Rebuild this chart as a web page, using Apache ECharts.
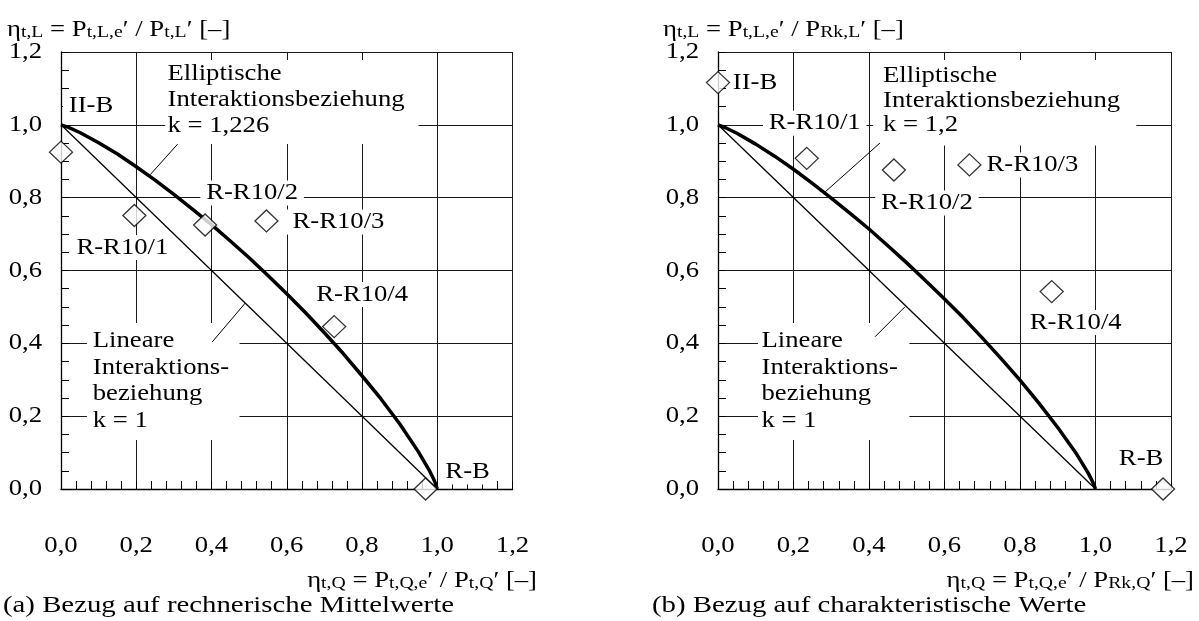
<!DOCTYPE html>
<html>
<head>
<meta charset="utf-8">
<script src="https://cdn.jsdelivr.net/npm/echarts@6/dist/echarts.min.js"></script>
<style>
html,body{margin:0;padding:0;background:#fff;}
#c{width:1199px;height:621px;}
</style>
</head>
<body>
<div id="c"></div>
<script>
// ---- data ----
const specimenNames = ['II-B', 'R-R10/1', 'R-R10/2', 'R-R10/3', 'R-R10/4', 'R-B'];
// (a) mean values
const meanEtaQ = [0.000, 0.195, 0.383, 0.546, 0.726, 0.969];
const meanEtaL = [0.925, 0.751, 0.725, 0.736, 0.446, 0.000];
// (b) characteristic values
const charEtaQ = [0.000, 0.235, 0.466, 0.666, 0.884, 1.179];
const charEtaL = [1.116, 0.908, 0.876, 0.890, 0.542, 0.000];
// interaction curves
const curveEtaQ    = [0, 0.02, 0.05, 0.1, 0.15, 0.2, 0.25, 0.3, 0.35, 0.4, 0.45, 0.5, 0.55, 0.6, 0.65, 0.7, 0.75, 0.8, 0.85, 0.9, 0.95, 0.98, 0.99, 0.995, 1.0];
const ellipseMeanL = [1.0, 0.993, 0.979, 0.951, 0.920, 0.885, 0.848, 0.809, 0.768, 0.726, 0.681, 0.635, 0.586, 0.536, 0.484, 0.429, 0.372, 0.311, 0.248, 0.179, 0.102, 0.049, 0.028, 0.016, 0];
const ellipseCharL = [1.0, 0.992, 0.977, 0.947, 0.914, 0.878, 0.839, 0.799, 0.757, 0.714, 0.668, 0.621, 0.572, 0.522, 0.470, 0.415, 0.358, 0.299, 0.236, 0.169, 0.096, 0.045, 0.025, 0.014, 0];
const linearEtaQ = [0, 1];
const linearEtaL = [1, 0];
const tickValues = [0, 0.2, 0.4, 0.6, 0.8, 1.0, 1.2];
const tickLabels = ['0,0', '0,2', '0,4', '0,6', '0,8', '1,0', '1,2'];

// ---- styling / layout ----
const FONT = "'Liberation Serif', 'Times New Roman', serif";
const FS = 23;                 // font size
const SX = 1.16;               // the reference type is set slightly widened
const pairs = (xs, ys) => xs.map((x, i) => [x, ys[i]]);

function axisCommon(gi, minorSplit) {
  return {
    type: 'value', gridIndex: gi, min: tickValues[0], max: tickValues[tickValues.length - 1],
    interval: tickValues[1] - tickValues[0],
    axisLine: { show: true, lineStyle: { color: '#000', width: 1.3 } },
    axisTick: { show: true, inside: true, length: 8, lineStyle: { color: '#000', width: 1 } },
    minorTick: { show: true, splitNumber: minorSplit, length: 8, lineStyle: { color: '#000', width: 1 } },
    splitLine: { show: true, lineStyle: { color: '#1a1a1a', width: 1 } },
    axisLabel: { show: false }
  };
}
function line(gi, data, width) {
  return {
    type: 'line', xAxisIndex: gi, yAxisIndex: gi, data: data, showSymbol: false, symbol: 'none',
    smooth: false, silent: true, lineStyle: { color: '#000', width: width, join: 'round' }, z: 3
  };
}
function leader(gi, a, b) {
  return {
    type: 'line', xAxisIndex: gi, yAxisIndex: gi, data: [a, b], showSymbol: false, symbol: 'none',
    silent: true, lineStyle: { color: '#000', width: 1 }, z: 60
  };
}
function specimens(gi, xs, ys) {
  return {
    type: 'scatter', xAxisIndex: gi, yAxisIndex: gi, clip: false, z: 55, silent: true,
    symbol: 'diamond', symbolSize: [23, 22],
    itemStyle: { color: '#fff', borderColor: '#000', borderWidth: 1.3 },
    data: xs.map((x, i) => ({ value: [x, ys[i]], name: specimenNames[i] }))
  };
}

const option = {
  animation: false,
  backgroundColor: '#fff',
  grid: [
    { left: 61, top: 52, width: 451.5, height: 437 },
    { left: 718, top: 52, width: 453, height: 437 }
  ],
  xAxis: [axisCommon(0, 5), axisCommon(1, 5)],
  yAxis: [axisCommon(0, 4), axisCommon(1, 4)],
  series: [
    line(0, pairs(curveEtaQ, ellipseMeanL), 3.5),
    line(0, pairs(linearEtaQ, linearEtaL), 1.3),
    leader(0, [0.310, 0.947], [0.237, 0.863]),
    leader(0, [0.490, 0.511], [0.402, 0.404]),
    specimens(0, meanEtaQ, meanEtaL),

    line(1, pairs(curveEtaQ, ellipseCharL), 3.5),
    line(1, pairs(linearEtaQ, linearEtaL), 1.3),
    leader(1, [0.429, 0.950], [0.283, 0.815]),
    leader(1, [0.495, 0.500], [0.416, 0.418]),
    specimens(1, charEtaQ, charEtaL)
  ]
};
const chart = echarts.init(document.getElementById('c'), null, { renderer: 'canvas' });
chart.setOption(option);

// ---- text layer (real text, placed through the chart's own scales) ----
const px = (gi, v) => chart.convertToPixel({ gridIndex: gi }, v);
const rich = {
  n: { fontSize: FS, fontFamily: FONT, color: '#000', verticalAlign: 'bottom', lineHeight: 27 },
  s: { fontSize: 17, fontFamily: FONT, color: '#000', verticalAlign: 'bottom', lineHeight: 20 }
};
function txt(x, y, text, o) {
  o = o || {};
  return {
    type: 'text', x: x, y: y, scaleX: o.sx || SX, z: 50, silent: true,
    style: Object.assign({
      text: text, fill: '#000', fontSize: o.fontSize || FS, fontFamily: FONT,
      align: o.align || 'center', verticalAlign: o.valign || 'middle'
    }, o.style || {})
  };
}
const graphics = [];
// tick labels
[0, 1].forEach(gi => {
  tickValues.forEach((v, i) => {
    const px0 = px(gi, [v, 0]);
    graphics.push(txt(px0[0], px0[1] + 57, tickLabels[i]));
    const py0 = px(gi, [0, v]);
    graphics.push(txt(py0[0] - 19, py0[1], tickLabels[i], { align: 'right' }));
  });
});
// specimen labels (offsets in px from the marker)
const meanOffsets = [[30, -46], [-12, 32], [47, -32], [72, 1], [28, -32], [42, -17]];
const charOffsets = [[37, 0], [8, -35], [33, 33], [63, 0], [24, 31], [-22, -30]];
function specimenLabels(gi, xs, ys, offs) {
  xs.forEach((x, i) => {
    const p = px(gi, [x, ys[i]]);
    graphics.push(txt(p[0] + offs[i][0], p[1] + offs[i][1], specimenNames[i],
      { style: { backgroundColor: '#fff', padding: [1, 5] } }));
  });
}
specimenLabels(0, meanEtaQ, meanEtaL, meanOffsets);
specimenLabels(1, charEtaQ, charEtaL, charOffsets);
// annotation boxes (top-left corner in data coordinates)
function note(gi, at, text, padding, lh) {
  const p = px(gi, at);
  graphics.push(txt(p[0], p[1], text, { align: 'left', valign: 'top',
    style: { backgroundColor: '#fff', padding: padding, lineHeight: lh } }));
}
note(0, [0.277, 1.178], 'Elliptische\nInteraktionsbeziehung\nk = 1,226', [1, 12, 5, 2], 26);
note(0, [0.069, 0.456], 'Lineare\nInteraktions-\nbeziehung\nk = 1', [5, 9, 6, 5], 26.5);
note(1, [0.411, 1.178], 'Elliptische\nInteraktionsbeziehung\nk = 1,2', [4, 14, 8, 8.5], 24.5);
note(1, [0.106, 0.456], 'Lineare\nInteraktions-\nbeziehung\nk = 1', [5, 10, 6, 3], 26.5);
// axis titles
function rt(x, y, align, text) {
  return { type: 'text', x: x, y: y, scaleX: SX, z: 50, silent: true,
    style: { text: text, rich: rich, align: align, verticalAlign: 'middle', fill: '#000', fontSize: FS, fontFamily: FONT } };
}
graphics.push(rt(7, 28, 'left', '{n|η}{s|t,L}{n| = P}{s|t,L,e}{n|′ / P}{s|t,L}{n|′ [–]}'));
graphics.push(rt(663, 28, 'left', '{n|η}{s|t,L}{n| = P}{s|t,L,e}{n|′ / P}{s|Rk,L}{n|′ [–]}'));
graphics.push(rt(537, 579, 'right', '{n|η}{s|t,Q}{n| = P}{s|t,Q,e}{n|′ / P}{s|t,Q}{n|′ [–]}'));
graphics.push(rt(1194, 579, 'right', '{n|η}{s|t,Q}{n| = P}{s|t,Q,e}{n|′ / P}{s|Rk,Q}{n|′ [–]}'));
// captions
graphics.push(txt(3, 606, '(a) Bezug auf rechnerische Mittelwerte', { align: 'left', fontSize: 24, sx: 1.2 }));
graphics.push(txt(652, 606, '(b) Bezug auf charakteristische Werte', { align: 'left', fontSize: 24, sx: 1.2 }));

chart.setOption({ graphic: graphics });
</script>
</body>
</html>
